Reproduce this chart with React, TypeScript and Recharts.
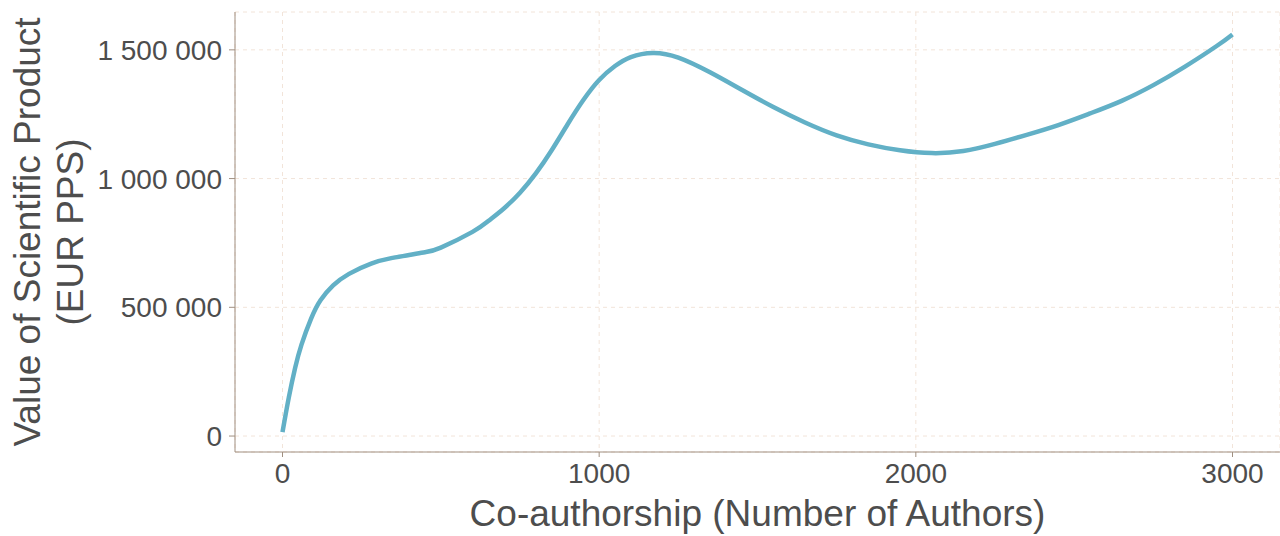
import { LineChart, Line, XAxis, YAxis, CartesianGrid } from "recharts";

const authors = [
  0, 20, 40, 60, 90, 120, 160, 210, 280, 340, 400, 450, 500, 600, 650, 700, 750, 800, 850, 900, 950, 1000,
  1050, 1100, 1170, 1250, 1350, 1450, 1550, 1650, 1750, 1850, 1950, 2050, 2150, 2250, 2350, 2450, 2550, 2650,
  2750, 2850, 2950, 3000,
];
const productValue = [
  15000, 150000, 265000, 355000, 455000, 527000, 585000, 630000, 670000, 690000, 703000, 714000, 732000,
  793000, 835000, 885000, 945000, 1020000, 1110000, 1210000, 1305000, 1383000, 1437000, 1472000, 1488000,
  1470000, 1413000, 1345000, 1278000, 1218000, 1168000, 1133000, 1110000, 1099000, 1107000, 1135000,
  1170000, 1208000, 1253000, 1302000, 1363000, 1435000, 1515000, 1560000,
];
const xTicks = [0, 1000, 2000, 3000];
const yTicks = [0, 500000, 1000000, 1500000];

const data = authors.map((a, i) => ({ authors: a, value: productValue[i] }));

const FONT = "'Liberation Sans', Arial, sans-serif";
const AXIS = "#a08f80";
const TEXT = "#4d4d4d";

function fmtSpace(n: number): string {
  return String(n).replace(/\B(?=(\d{3})+(?!\d))/g, " ");
}

function YTitle(props: any) {
  const vb = props.viewBox || {};
  const cy = vb.y + vb.height / 2;
  const x1 = vb.x + 40;
  const x2 = vb.x + 83;
  return (
    <g fill={TEXT} fontSize={37} fontFamily={FONT} textAnchor="middle">
      <text x={x1} y={cy} transform={`rotate(-90, ${x1}, ${cy})`}>
        Value of Scientific Product
      </text>
      <text x={x2} y={cy} transform={`rotate(-90, ${x2}, ${cy})`}>
        (EUR PPS)
      </text>
    </g>
  );
}

function XTitle(props: any) {
  const vb = props.viewBox || {};
  return (
    <text x={vb.x + vb.width / 2} y={vb.y + 74} fill={TEXT} fontSize={37} fontFamily={FONT} textAnchor="middle">
      Co-authorship (Number of Authors)
    </text>
  );
}

export default function App() {
  return (
    <div style={{ position: "absolute", left: 0, top: 0, background: "#fff" }}>
      <LineChart width={1280} height={536} data={data} margin={{ top: 12, right: 0, left: 0, bottom: 0 }}>
        <CartesianGrid stroke="#f2e4d9" strokeDasharray="4 4" />
        <XAxis
          dataKey="authors"
          type="number"
          domain={[-150, 3150]}
          ticks={xTicks}
          allowDataOverflow
          height={84}
          stroke={AXIS}
          tickSize={5}
          tickMargin={6}
          tick={{ fill: TEXT, fontSize: 28, fontFamily: FONT }}
          label={<XTitle />}
        />
        <YAxis
          type="number"
          domain={[-62000, 1647000]}
          ticks={yTicks}
          allowDataOverflow
          width={235}
          stroke={AXIS}
          tickSize={6}
          tickMargin={7}
          tickFormatter={fmtSpace}
          tick={{ fill: TEXT, fontSize: 28, fontFamily: FONT }}
          label={<YTitle />}
        />
        <Line
          type="natural"
          dataKey="value"
          stroke="#62b0c6"
          strokeWidth={4.5}
          dot={false}
          isAnimationActive={false}
        />
      </LineChart>
    </div>
  );
}
